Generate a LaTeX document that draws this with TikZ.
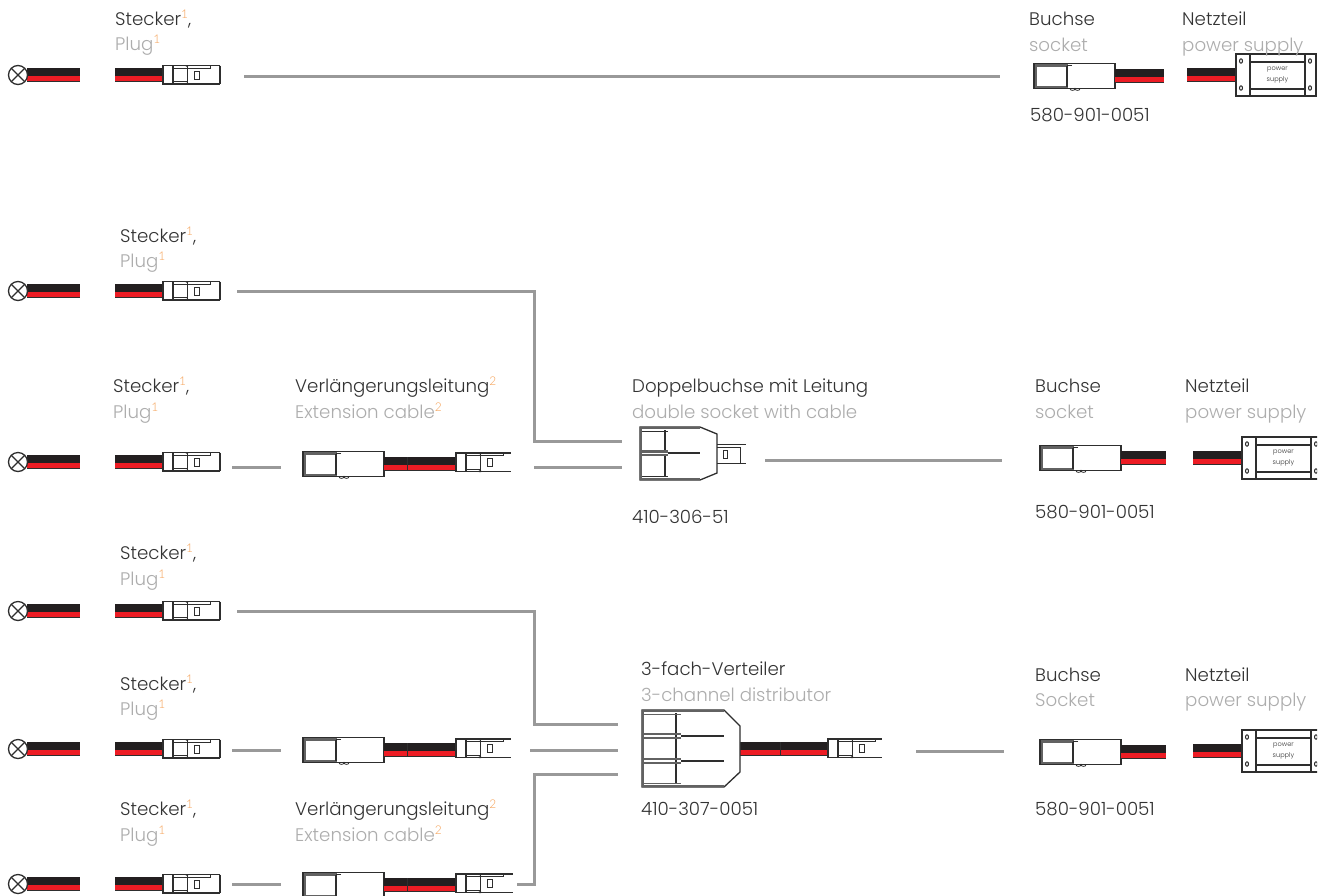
\documentclass[tikz,border=0pt]{standalone}
\usepackage{fontspec}
\setmainfont{Poppins Light}[BoldFont={Poppins}]
\newfontfamily\supfont{Lato Light}
\definecolor{txtdark}{HTML}{333333}
\definecolor{txtgray}{HTML}{ADADAD}
\definecolor{supor}{HTML}{F59E50}
\definecolor{linegray}{HTML}{999999}
\definecolor{wirered}{HTML}{ED1C24}
\definecolor{wireblack}{HTML}{231F20}
\definecolor{edge}{HTML}{2E2E2E}
\newcommand{\supmark}[1]{\raisebox{.62ex}{\supfont\fontsize{12}{12}\selectfont\color{supor}#1}}
\newcommand{\sone}{\supmark{1}}
\newcommand{\stwo}{\supmark{2}}
\tikzset{
 lbl/.style={anchor=base west,inner sep=0pt,font=\fontsize{18.2}{20}\selectfont},
 de/.style={lbl,text=txtdark},
 en/.style={lbl,text=txtgray},
 conn/.style={draw=linegray,line width=3pt},
 dev/.style={draw=edge,line width=1.3pt,fill=white},
 devl/.style={draw=edge,line width=1.3pt},
}
\newcommand{\cable}[1]{%
 \fill[wireblack] (0,-7) rectangle (#1,1);
 \fill[wirered] (0,1) rectangle (#1,5.5);
 \draw[edge,line width=1pt] (0,6) -- (#1,6);}
\newcommand{\plugbody}[1]{%
 \draw[dev] (0,-9.5) rectangle (10,9);
 \draw[devl] (10,-9.5) -- (#1,-9.5) (10,9) -- (#1,9);
 \draw[devl,line width=1pt] (10,-7) -- (47,-7) -- (47,-9.5) (10,6.5) -- (24,6.5) (24,-9.5) -- (24,9) (10,-7) -- (10,9);
 \draw[devl,line width=1pt] (31,-4) rectangle (36,4);
 \fill[edge] (22.8,-10) rectangle (25.2,-8.4) (22.8,7.8) rectangle (25.2,9.6);}
\newcommand{\lampdev}[2]{\begin{scope}[shift={(#1,#2)}]
 \begin{scope}[shift={(9,0)}]\cable{53}\end{scope}
 \draw[dev,line width=1.3pt] (0,0) circle (9.5);
 \draw[edge,line width=1.2pt] (-6.7,-6.7) -- (6.7,6.7) (-6.7,6.7) -- (6.7,-6.7);
 \end{scope}}
\newcommand{\plugdev}[2]{\begin{scope}[shift={(#1,#2)}]
 \cable{48}
 \begin{scope}[shift={(48,0)}]\plugbody{57}\draw[devl] (57,-9.5) -- (57,9);\end{scope}
 \end{scope}}
\newcommand{\socketbody}{%
 \draw[dev] (0,-12.5) rectangle (81,12.5);
 \draw[edge!75,line width=2.2pt] (34,-10.5) -- (2,-10.5) -- (2,11) -- (34,11);
 \draw[devl] (33,-10.5) -- (33,11) (38,-10.5) -- (33,-10.5);
 \draw[edge,line width=.8pt] (36,12.5) .. controls (36,15) and (41,15) .. (41,12.5) .. controls (41,15) and (46,15) .. (46,12.5);}
\newcommand{\extdev}[3]{\begin{scope}[shift={(#1,#2)}]
 \socketbody
 \begin{scope}[shift={(81,0)}]\cable{72}\draw[edge,line width=.8pt] (23,-7) -- (23,6);\end{scope}
 \begin{scope}[shift={(153,-1.5)}]\plugbody{#3}\end{scope}
 \end{scope}}
\newcommand{\socketdev}[3]{\begin{scope}[shift={(#1,#2)}]
 \socketbody
 \begin{scope}[shift={(81,0)}]\cable{#3}\end{scope}
 \end{scope}}
\newcommand{\psudev}[2]{\begin{scope}[shift={(#1,#2)}]
 \cable{49}
 \begin{scope}[shift={(49,0)}]
 \draw[dev] (0,-21) rectangle (80,21);
 \draw[devl] (14,-21) -- (14,21) (69,-21) -- (69,21) (14,-13) -- (69,-13) (14,14) -- (69,14);
 \draw[devl,line width=1pt] (5,-14) ellipse (1.5 and 2.2) (5,13) ellipse (1.5 and 2.2) (74,-14) ellipse (1.5 and 2.2) (74,13) ellipse (1.5 and 2.2);
 \node[inner sep=0pt,align=center,text=txtdark,font=\fontsize{6.6}{11}\selectfont] at (41.5,0) {power\\supply};
 \end{scope}\end{scope}}
\begin{document}
\begin{tikzpicture}[x=1pt,y=-1pt]
\useasboundingbox (0,0) rectangle (1332,895);
\fill[white] (0,0) rectangle (1332,895);
\begin{scope}
\clip (0,0) rectangle (1317,895);
\lampdev{18}{75}\plugdev{115}{75}
\lampdev{18}{291}\plugdev{115}{291}
\lampdev{18}{462}\plugdev{115}{462}
\lampdev{18}{611}\plugdev{115}{611}
\lampdev{18}{749}\plugdev{115}{749}
\lampdev{18}{884}\plugdev{115}{884}
\extdev{303}{464}{55}
\extdev{303}{750}{55}
\extdev{303}{885}{57}
\socketdev{1034}{76}{49}\psudev{1187}{75}
\socketdev{1040}{458}{45}\psudev{1193}{458}
\socketdev{1040}{752}{45}\psudev{1193}{751}
% double socket
\draw[dev] (640,427) -- (700,427) -- (717,434) -- (717,473) -- (700,480) -- (640,480) -- cycle;
\draw[edge!75,line width=2.2pt] (700,428) -- (641,428) -- (641,479) -- (700,479);
\draw[devl] (665,430) -- (665,450) (665,456) -- (665,477);
\draw[devl,line width=1pt] (642,431) -- (668,431) (642,476) -- (668,476);
\draw[edge!75,line width=2.4pt] (641,451.5) -- (668,451.5);
\draw[edge!75,line width=1.6pt] (641,455) -- (668,455);
\draw[edge,line width=1.8pt] (668,453) -- (700,453);
\draw[devl,line width=1pt] (717,444) -- (746,444) (717,463) -- (746,463) (717,447) -- (740,447) -- (740,463);
\draw[devl,line width=1pt] (723,450) rectangle (727,458);
% triple distributor
\begin{scope}[shift={(740,749)}]\cable{88}\draw[edge,line width=.8pt] (40,-7) -- (40,6);\end{scope}
\begin{scope}[shift={(828,748.5)}]\plugbody{54}\end{scope}
\draw[dev] (642,710) -- (724,710) -- (740,726) -- (740,772) -- (724,787) -- (642,787) -- cycle;
\draw[edge!75,line width=2.2pt] (724,711) -- (643,711) -- (643,786) -- (724,786);
\draw[devl] (676,713) -- (676,784);
\draw[edge!75,line width=1pt] (644,714) -- (681,714) (644,783) -- (681,783);
\draw[edge!75,line width=2.4pt] (643,734) -- (681,734) (643,759) -- (681,759);
\draw[edge!75,line width=1.6pt] (643,738) -- (681,738) (643,763) -- (681,763);
\draw[edge,line width=1.8pt] (681,736) -- (724,736) (681,761) -- (724,761);
\end{scope}
\coordinate (a1) at (244,76); \coordinate (a2) at (1000,76);
\coordinate (b1) at (237,291); \coordinate (b2) at (534,291); \coordinate (b3) at (534,441); \coordinate (b4) at (622,441);
\coordinate (c1) at (232,467); \coordinate (c2) at (281,467);
\coordinate (c3) at (534,467); \coordinate (c4) at (622,467);
\coordinate (c5) at (765,460); \coordinate (c6) at (1002,460);
\coordinate (d1) at (237,611); \coordinate (d2) at (534,611); \coordinate (d3) at (534,724); \coordinate (d4) at (618,724);
\coordinate (e1) at (232,750); \coordinate (e2) at (281,750);
\coordinate (e3) at (530,750); \coordinate (e4) at (618,750);
\coordinate (e5) at (916,751); \coordinate (e6) at (1004,751);
\coordinate (f1) at (232,884); \coordinate (f2) at (281,884);
\coordinate (f3) at (517,884); \coordinate (f4) at (534,884); \coordinate (f5) at (534,774); \coordinate (f6) at (618,774);
\draw[conn] (a1) -- (a2);
\draw[conn] (b1) -- (b2) -- (b3) -- (b4);
\draw[conn] (c1) -- (c2); \draw[conn] (c3) -- (c4); \draw[conn] (c5) -- (c6);
\draw[conn] (d1) -- (d2) -- (d3) -- (d4);
\draw[conn] (e1) -- (e2); \draw[conn] (e3) -- (e4); \draw[conn] (e5) -- (e6);
\draw[conn] (f1) -- (f2); \draw[conn] (f3) -- (f4) -- (f5) -- (f6);
\node[de] (t1) at (115,25) {Stecker\sone,};
\node[en] (t2) at (115,50) {Plug\sone};
\node[de] (t3) at (1029,25) {Buchse};
\node[en] (t4) at (1029,51) {socket};
\node[de] (t5) at (1182,25) {Netzteil};
\node[en] (t6) at (1182,51) {power supply};
\node[de] (t7) at (1030,121) {580-901-0051};
\node[de] (t8) at (120,242) {Stecker\sone,};
\node[en] (t9) at (120,267) {Plug\sone};
\node[de] (t10) at (113,392) {Stecker\sone,};
\node[en] (t11) at (113,418) {Plug\sone};
\node[de] (t12) at (295,392) {Verlängerungsleitung\stwo};
\node[en] (t13) at (295,418) {Extension cable\stwo};
\node[de] (t14) at (632,392) {Doppelbuchse mit Leitung};
\node[en] (t15) at (632,418) {double socket with cable};
\node[de] (t16) at (632,523) {410-306-51};
\node[de] (t17) at (1035,392) {Buchse};
\node[en] (t18) at (1035,418) {socket};
\node[de] (t19) at (1185,392) {Netzteil};
\node[en] (t20) at (1185,418) {power supply};
\node[de] (t21) at (1035,518) {580-901-0051};
\node[de] (t22) at (120,559) {Stecker\sone,};
\node[en] (t23) at (120,585) {Plug\sone};
\node[de] (t24) at (120,690) {Stecker\sone,};
\node[en] (t25) at (120,715) {Plug\sone};
\node[de] (t26) at (641,675) {3-fach-Verteiler};
\node[en] (t27) at (641,701) {3-channel distributor};
\node[de] (t28) at (641,815) {410-307-0051};
\node[de] (t29) at (1035,681) {Buchse};
\node[en] (t30) at (1035,706) {Socket};
\node[de] (t31) at (1185,681) {Netzteil};
\node[en] (t32) at (1185,706) {power supply};
\node[de] (t33) at (1035,815) {580-901-0051};
\node[de] (t34) at (120,815) {Stecker\sone,};
\node[en] (t35) at (120,841) {Plug\sone};
\node[de] (t36) at (295,815) {Verlängerungsleitung\stwo};
\node[en] (t37) at (295,841) {Extension cable\stwo};
\end{tikzpicture}
\end{document}
